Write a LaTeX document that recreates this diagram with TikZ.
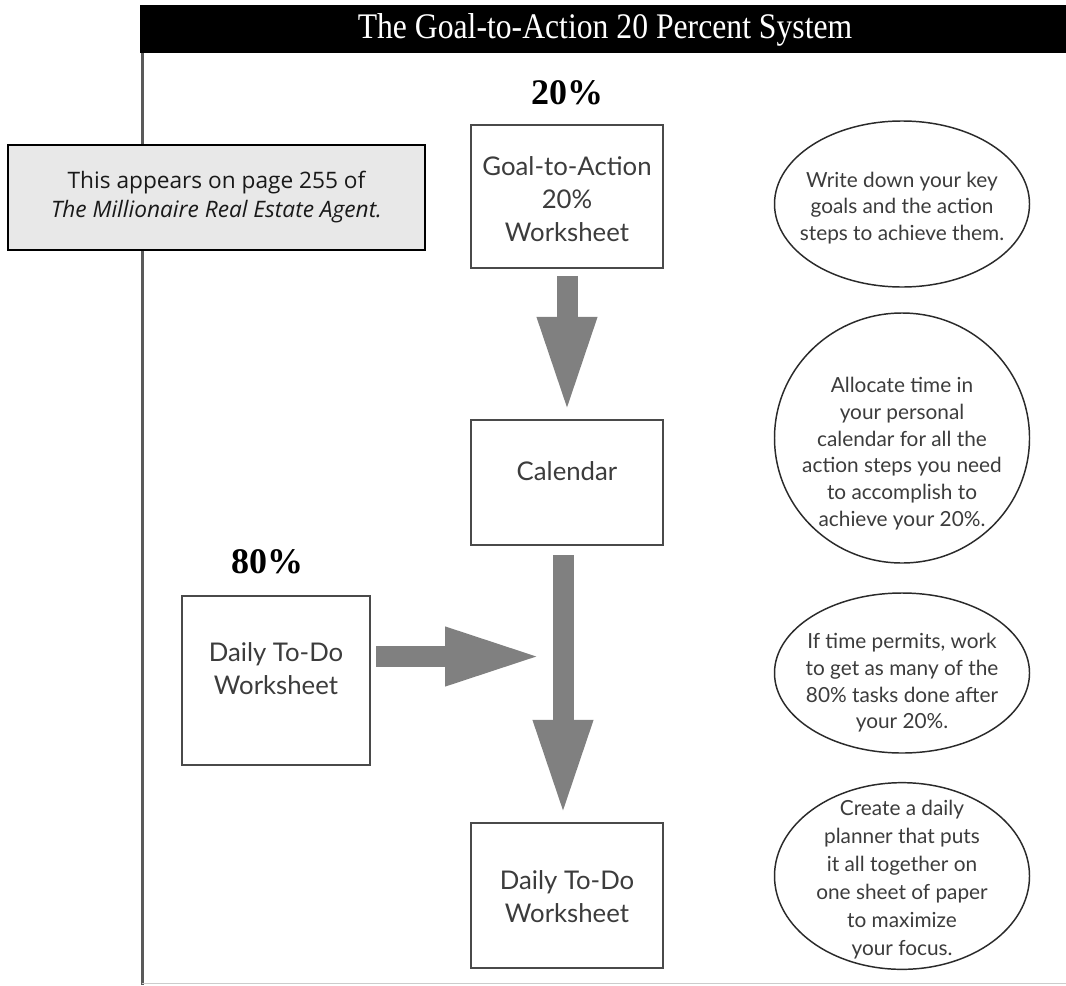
\documentclass[tikz,border=0pt]{standalone}
\usepackage{fontspec}
\usepackage{graphicx}
\setmainfont{Liberation Serif}
\newfontfamily\boxfont{Lato}
\newfontfamily\notefont{Open Sans}
\usetikzlibrary{shapes.geometric,arrows.meta}
\definecolor{arrowgray}{HTML}{808080}
\definecolor{boxline}{HTML}{4A4A4A}
\definecolor{textgray}{HTML}{3C3C3C}
\definecolor{calloutfill}{HTML}{E8E8E8}
\definecolor{framegray}{HTML}{5A5A5A}
\definecolor{ellline}{HTML}{2A2A2A}
\tikzset{
  stepbox/.style={draw=boxline, line width=1.6pt, fill=white, inner sep=0pt, minimum width=144pt},
  boxtext/.style={font=\boxfont\fontsize{19.3}{24.75}\selectfont, text=textgray, align=center, inner sep=0pt},
  noteell/.style={ellipse, draw=ellline, line width=1.1pt, inner sep=0pt, minimum width=191.25pt},
  elltext/.style={font=\boxfont\fontsize{15.6}{20}\selectfont, text=textgray, align=center, inner sep=0pt},
  pctlabel/.style={font=\bfseries\fontsize{27}{30}\selectfont, text=black, inner sep=0pt},
  flowarrow/.style={draw=arrowgray, line width=15.75pt, -{Triangle[width=40.5pt,length=72.75pt]}},
  callout/.style={draw=black, line width=1.5pt, fill=calloutfill, minimum width=312.75pt, minimum height=78.75pt, align=center, font=\notefont\fontsize{17}{21.75}\selectfont, text=black!90},
  titletext/.style={font=\fontsize{27}{30}\selectfont, text=white, inner sep=0pt}
}
\begin{document}
\begin{tikzpicture}[x=0.75pt,y=-0.75pt]
\useasboundingbox (0,0) rectangle (1066,985);
\fill[white] (0,0) rectangle (1066,985);
% frame
\fill[black] (140,5) rectangle (1066,53);
\node[titletext] (title) at (605,30) {\scalebox{0.88}[1]{The Goal-to-Action 20 Percent System}};
\draw[framegray, line width=2.25pt] (142,53) -- (142,985);
\draw[black!20, line width=0.75pt] (142,983) -- (1066,983);

% percent labels
\node[pctlabel] (p20) at (567,93) {20\%};
\node[pctlabel] (p80) at (267,562) {80\%};

% boxes
\node[stepbox, minimum height=107pt] (goal) at (567,196.5) {};
\node[boxtext] (goaltext) at (567,199.5) {Goal-to-Action\\20\%\\Worksheet};
\node[stepbox, minimum height=94pt] (cal) at (567,482.5) {};
\node[boxtext] (caltext) at (567,471) {Calendar};
\node[stepbox, minimum height=109pt] (fin) at (567,895.5) {};
\node[boxtext] (fintext) at (567,896.5) {Daily To-Do\\Worksheet};
\node[stepbox, minimum width=141pt, minimum height=127pt] (todo) at (276,680.5) {};
\node[boxtext] (todotext) at (276,669) {Daily To-Do\\Worksheet};

% arrows
\coordinate (join) at (543,656.5);
\draw[flowarrow, shorten <=5.25pt, shorten >=3.75pt] (goal.south) -- (cal.north);
\draw[flowarrow, shorten <=6.75pt, shorten >=3.75pt] ([xshift=-3pt]cal.south) -- ([xshift=-3pt]fin.north);
\draw[flowarrow, shorten <=3.75pt, -{Triangle[width=39.75pt,length=73.5pt]}] (join -| todo.east) -- (join);

% ellipses
\node[noteell, minimum height=124.5pt] (e1) at (902,204) {};
\node[elltext] (e1text) at (902,208) {Write down your key\\goals and the action\\steps to achieve them.};
\node[noteell, minimum height=187.5pt] (e2) at (902,438) {};
\node[elltext] (e2text) at (902,453.5) {Allocate time in\\your personal\\calendar for all the\\action steps you need\\to accomplish to\\achieve your 20\%.};
\node[noteell, minimum height=120pt] (e3) at (902,673) {};
\node[elltext] (e3text) at (902,683) {If time permits, work\\to get as many of the\\80\% tasks done after\\your 20\%.};
\node[noteell, minimum height=140pt] (e4) at (902,876) {};
\node[elltext, font=\boxfont\fontsize{15.6}{21}\selectfont] (e4text) at (902,880) {Create a daily\\planner that puts\\it all together on\\one sheet of paper\\to maximize\\your focus.};

% callout
\node[callout] (note) at (216.5,197.5) {This appears on page 255 of\\\textit{The Millionaire Real Estate Agent.}};
\end{tikzpicture}
\end{document}
